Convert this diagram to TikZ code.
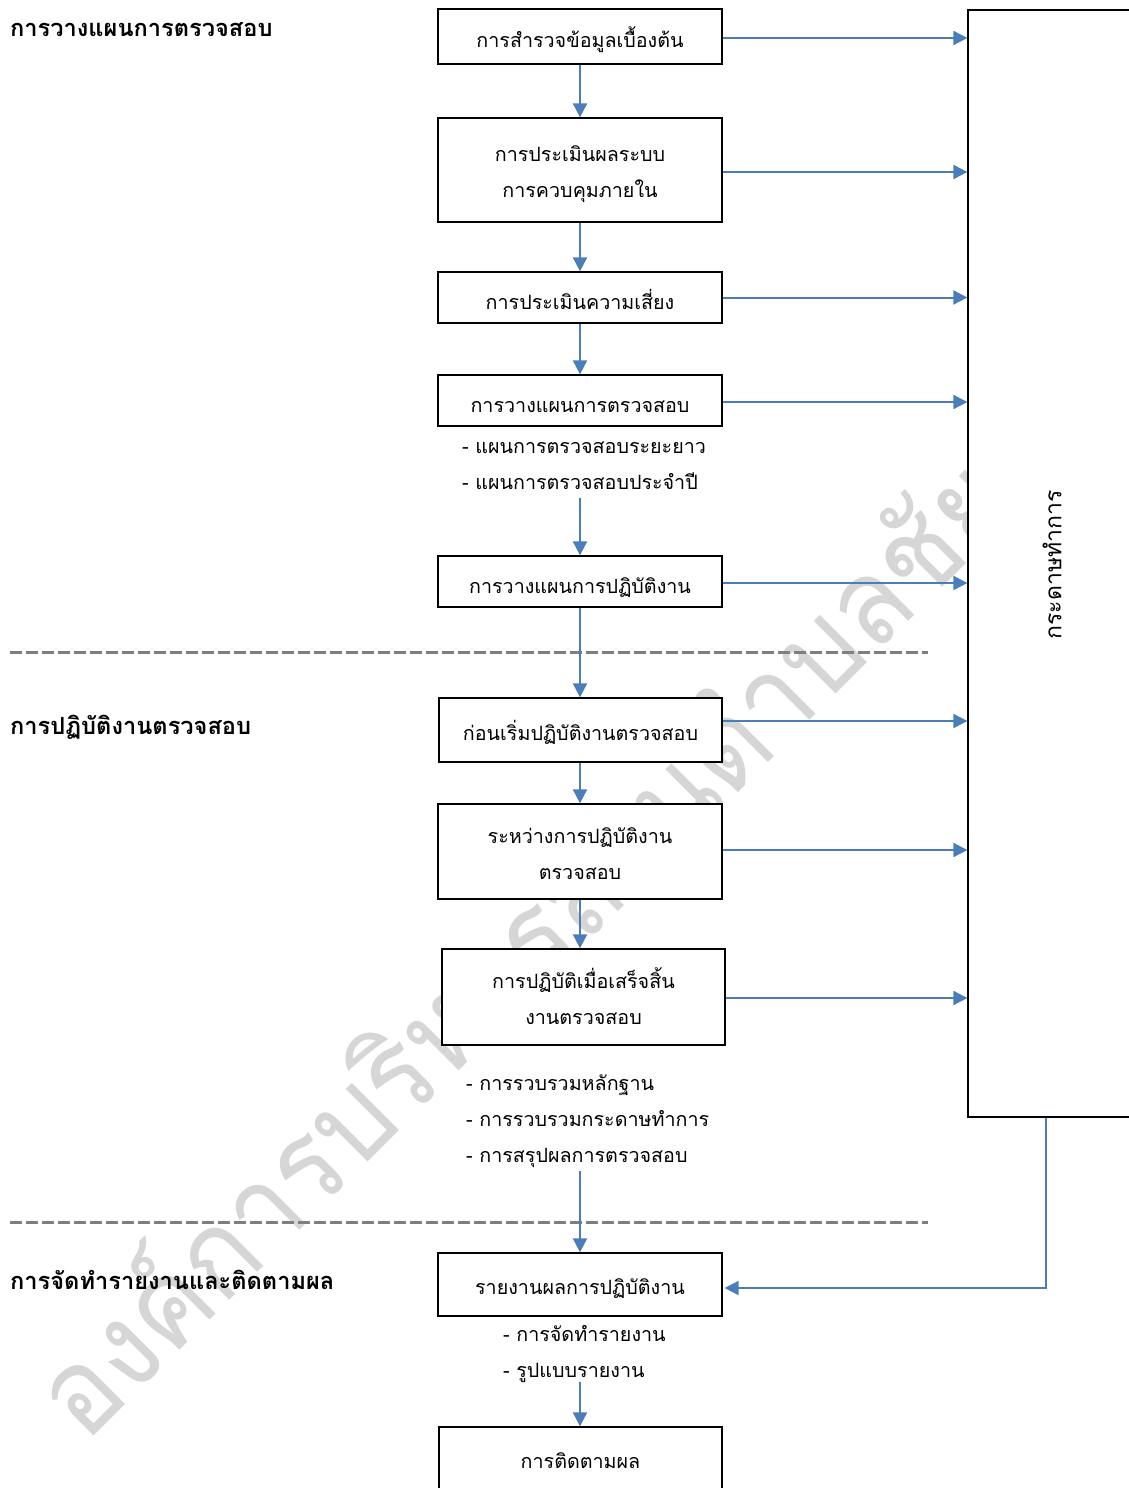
\documentclass[tikz,border=0pt]{standalone}
\usepackage{fontspec}
\newfontfamily\thai[Script=Thai]{Loma}
\usetikzlibrary{arrows.meta}
\definecolor{arrblue}{HTML}{4A7EBB}
\definecolor{sepgray}{HTML}{7F7F7F}
\definecolor{wmgray}{HTML}{D6D6D6}
\tikzset{
  box/.style={draw=black, line width=1.3pt, fill=white, minimum width=284pt, inner sep=0pt},
  txt/.style={inner sep=0pt, text height=20pt, text depth=4.8pt, font=\thai\fontsize{19.7}{24}\selectfont},
  sub/.style={txt, anchor=west},
  head/.style={anchor=west, inner sep=0pt, text height=23.8pt, text depth=5.6pt, font=\thai\bfseries\fontsize{23.6}{28}\selectfont},
  arr/.style={draw=arrblue, line width=2pt, -{Triangle[length=14pt,width=14pt]}},
  sepline/.style={draw=sepgray, line width=3pt, dash pattern=on 12pt off 4pt},
  wmark/.style={text=wmgray, inner sep=0pt, font=\thai\fontsize{120}{120}\selectfont}
}
\begin{document}
\begin{tikzpicture}[x=1pt,y=-1pt]
\useasboundingbox[fill=white] (0,0) rectangle (1129,1488);
% watermark
\node[wmark, rotate=45, xscale=0.92, anchor=base west] (wm) at (85,1445) {องค์การบริหารส่วนตำบลชัย};
% separators
\draw[sepline] (10,652) -- (928,652);
\draw[sepline] (10,1222) -- (928,1222);
% headers
\node[head] (h1) at (10,27) {การวางแผนการตรวจสอบ};
\node[head] (h2) at (10,725) {การปฏิบัติงานตรวจสอบ};
\node[head] (h3) at (10,1280) {การจัดทำรายงานและติดตามผล};
% right box
\node[draw=black, line width=1.3pt, fill=white, minimum width=182pt, minimum height=1107pt, inner sep=0pt] (wp) at (1059,563.5) {};
\node[inner sep=0pt, rotate=90, font=\thai\fontsize{23}{28}\selectfont] (wpl) at (1052,565) {กระดาษทำการ};
% boxes
\node[box, minimum height=55pt] (b1) at (580,36.5) {};
\node[txt] (t1) at (580,40) {การสำรวจข้อมูลเบื้องต้น};
\node[box, minimum height=104pt] (b2) at (580,170) {};
\node[txt] (t2a) at (580,154) {การประเมินผลระบบ};
\node[txt] (t2b) at (580,190) {การควบคุมภายใน};
\node[box, minimum height=51pt] (b3) at (580,297.5) {};
\node[txt] (t3) at (580,302) {การประเมินความเสี่ยง};
\node[box, minimum height=51pt] (b4) at (580,400.5) {};
\node[txt] (t4) at (580,405) {การวางแผนการตรวจสอบ};
\node[sub] (s41) at (462,446) {- แผนการตรวจสอบระยะยาว};
\node[sub] (s42) at (462,482) {- แผนการตรวจสอบประจำปี};
\node[box, minimum height=51pt] (b5) at (580,581.5) {};
\node[txt] (t5) at (580,586) {การวางแผนการปฏิบัติงาน};
\node[box, minimum height=64pt, minimum width=283pt] (b6) at (580.5,730) {};
\node[txt] (t6) at (580.5,733) {ก่อนเริ่มปฏิบัติงานตรวจสอบ};
\node[box, minimum height=95pt] (b7) at (580,851.5) {};
\node[txt] (t7a) at (580,836) {ระหว่างการปฏิบัติงาน};
\node[txt] (t7b) at (580,872) {ตรวจสอบ};
\node[box, minimum height=96pt, minimum width=283pt] (b8) at (583.5,997) {};
\node[txt] (t8a) at (583.5,981) {การปฏิบัติเมื่อเสร็จสิ้น};
\node[txt] (t8b) at (583.5,1017) {งานตรวจสอบ};
\node[sub] (s81) at (466,1083) {- การรวบรวมหลักฐาน};
\node[sub] (s82) at (466,1119) {- การรวบรวมกระดาษทำการ};
\node[sub] (s83) at (466,1155) {- การสรุปผลการตรวจสอบ};
\node[box, minimum height=63pt] (b9) at (580,1284.5) {};
\node[txt] (t9) at (580,1287) {รายงานผลการปฏิบัติงาน};
\node[sub] (s91) at (503,1334) {- การจัดทำรายงาน};
\node[sub] (s92) at (503,1370) {- รูปแบบรายงาน};
\node[box, minimum height=86pt, minimum width=283pt] (b10) at (580.5,1470) {};
\node[txt] (t10) at (580.5,1461) {การติดตามผล};
% vertical arrows
\draw[arr] (b1.south) -- (b2.north);
\draw[arr] (b2.south) -- (b3.north);
\draw[arr] (b3.south) -- (b4.north);
\coordinate (v4) at (580,498);
\draw[arr] (v4) -- (b5.north);
\draw[arr] (b5.south) -- (b6.north -| b5.south);
\draw[arr] (b6.south -| b5.south) -- (b7.north);
\draw[arr] (b7.south) -- (b8.north -| b7.south);
\coordinate (v8) at (580,1171);
\draw[arr] (v8) -- (b9.north);
\coordinate (v9) at (580,1382);
\draw[arr] (v9) -- (b10.north -| v9);
% horizontal arrows to working papers
\coordinate (a1) at ([yshift=-1.5pt]b1.east);
\coordinate (a2) at ([yshift=-2pt]b2.east);
\coordinate (a3) at (b3.east);
\coordinate (a4) at ([yshift=-1.5pt]b4.east);
\coordinate (a5) at ([yshift=-1.5pt]b5.east);
\coordinate (a6) at ([yshift=9pt]b6.east);
\coordinate (a7) at ([yshift=1.5pt]b7.east);
\coordinate (a8) at ([yshift=-1pt]b8.east);
\foreach \a in {a1,a2,a3,a4,a5,a6,a7,a8} \draw[arr] (\a) -- (\a -| wp.west);
% feedback
\coordinate (fb) at ([xshift=-13pt]wp.south);
\coordinate (fe) at ([yshift=-3.5pt]b9.east);
\draw[arr] (fb) |- ([xshift=2pt]fe);
\end{tikzpicture}
\end{document}
